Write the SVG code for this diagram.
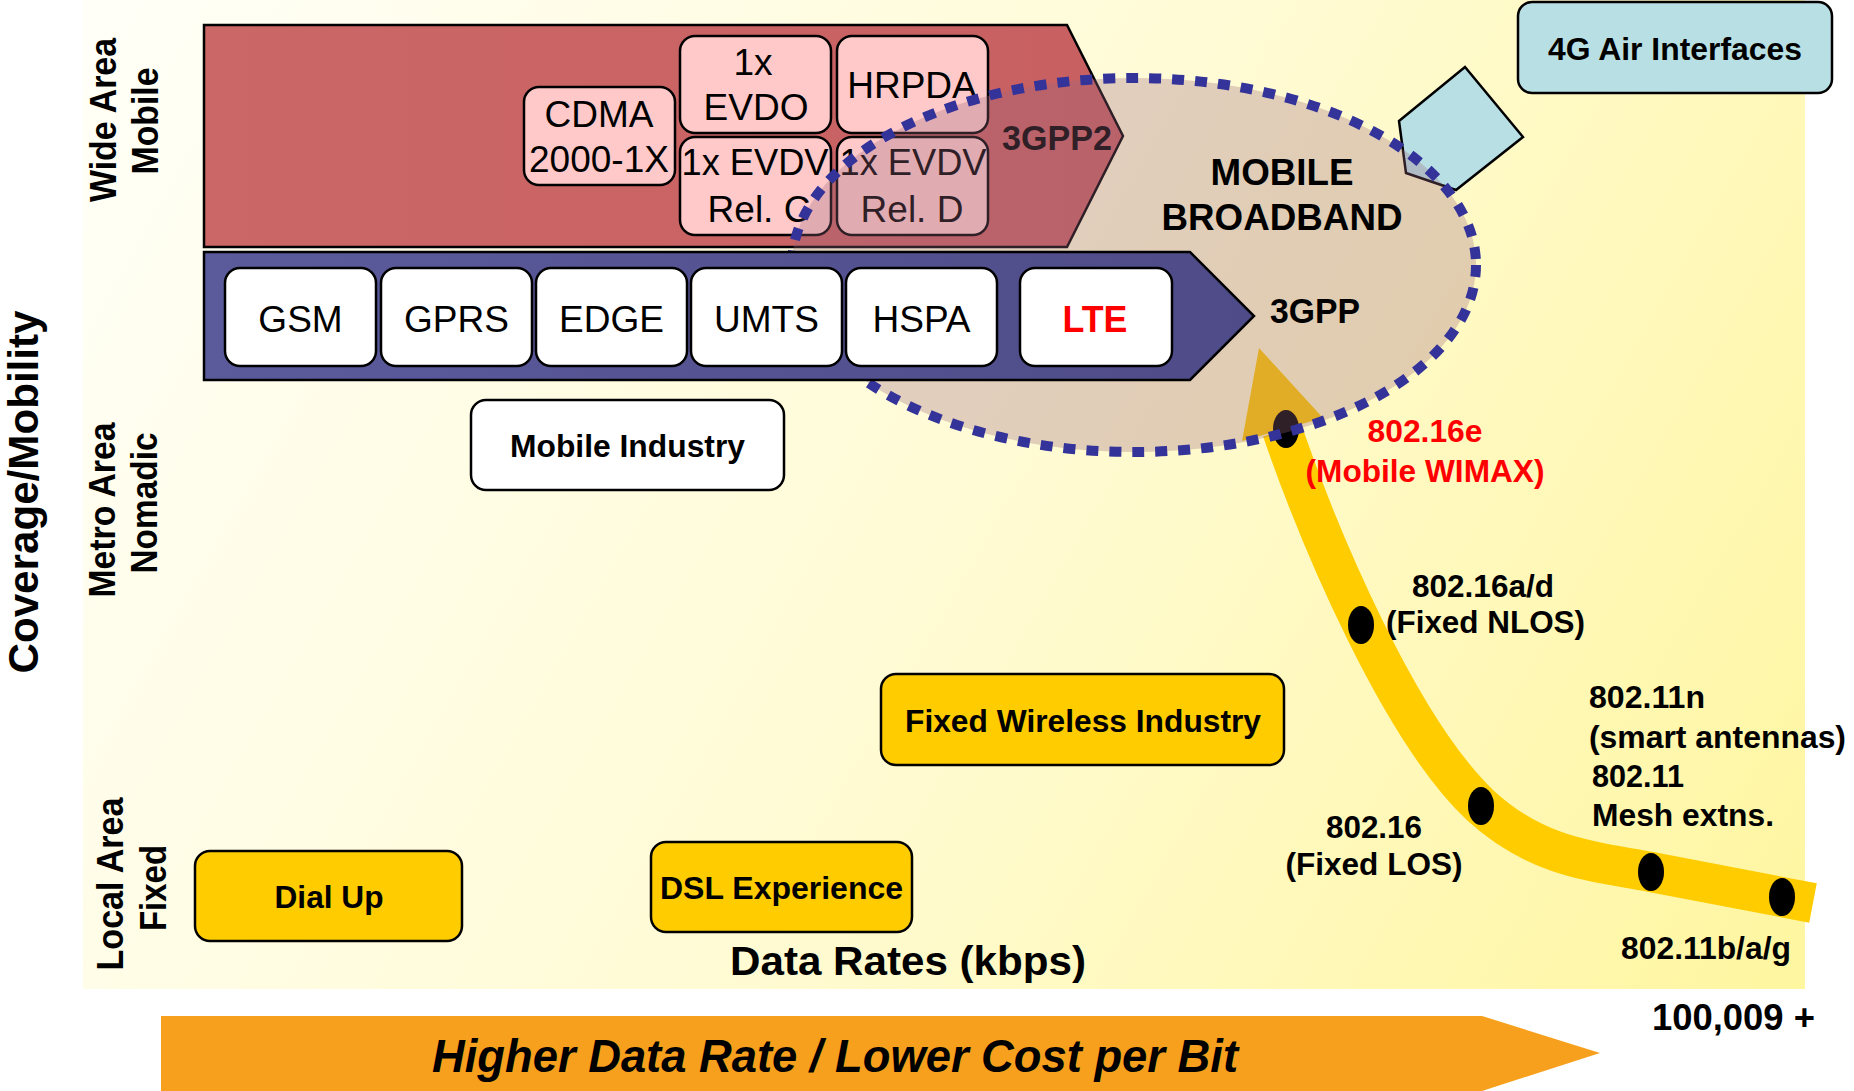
<svg xmlns="http://www.w3.org/2000/svg" width="1854" height="1091" viewBox="0 0 1854 1091">
<defs>
<linearGradient id="bg" gradientUnits="userSpaceOnUse" x1="83" y1="0" x2="1805" y2="989">
<stop offset="0" stop-color="#fffff8"/>
<stop offset="0.5" stop-color="#fffbd6"/>
<stop offset="1" stop-color="#fff6a0"/>
</linearGradient>
<linearGradient id="blueg" gradientUnits="userSpaceOnUse" x1="204" y1="0" x2="1254" y2="0">
<stop offset="0" stop-color="#5b5b9c"/>
<stop offset="1" stop-color="#4f4b88"/>
</linearGradient>
<linearGradient id="redg" gradientUnits="userSpaceOnUse" x1="204" y1="0" x2="1123" y2="0">
<stop offset="0" stop-color="#cb6767"/>
<stop offset="1" stop-color="#c86062"/>
</linearGradient>
<style>
text{font-family:"Liberation Sans",Arial,Helvetica,sans-serif;fill:#000}
.b{font-weight:bold}
.reg{font-size:37px}
.lbl{font-weight:bold;font-size:31px}
.mid{text-anchor:middle}
.pink{fill:#ffc9c9;stroke:#000;stroke-width:2.5}
.white{fill:#fff;stroke:#000;stroke-width:2.5}
.ybox{fill:#ffcc00;stroke:#000;stroke-width:2.5}
.dot{fill:#000}
.red{fill:#ff0000}
</style>
</defs>

<rect id="background" x="83" y="0" width="1722" height="989" fill="url(#bg)"/>

<g id="cost-arrow">
<polygon points="161,1016 1482,1016 1600,1053 1482,1091 161,1091" fill="#f6a01d"/>
<text class="b mid" x="835" y="1072" font-size="46" font-style="italic" textLength="806" lengthAdjust="spacingAndGlyphs">Higher Data Rate / Lower Cost per Bit</text>
</g>

<g id="axis-labels">
<text class="b mid" transform="translate(38,492) rotate(-90)" font-size="42" textLength="363" lengthAdjust="spacingAndGlyphs">Coverage/Mobility</text>
<text class="b mid" transform="translate(116,120) rotate(-90)" font-size="37" textLength="164" lengthAdjust="spacingAndGlyphs">Wide Area</text>
<text class="b mid" transform="translate(158,121) rotate(-90)" font-size="37" textLength="107" lengthAdjust="spacingAndGlyphs">Mobile</text>
<text class="b mid" transform="translate(115,510) rotate(-90)" font-size="37" textLength="175" lengthAdjust="spacingAndGlyphs">Metro Area</text>
<text class="b mid" transform="translate(157,503) rotate(-90)" font-size="37" textLength="141" lengthAdjust="spacingAndGlyphs">Nomadic</text>
<text class="b mid" transform="translate(123,884) rotate(-90)" font-size="37" textLength="173" lengthAdjust="spacingAndGlyphs">Local Area</text>
<text class="b mid" transform="translate(166,888) rotate(-90)" font-size="37" textLength="86" lengthAdjust="spacingAndGlyphs">Fixed</text>
<text class="b" x="730" y="975" font-size="40" textLength="356" lengthAdjust="spacingAndGlyphs">Data Rates (kbps)</text>
<text class="b" x="1652" y="1030" font-size="36" textLength="163" lengthAdjust="spacingAndGlyphs">100,009 +</text>
</g>

<g id="node-3gpp2">
<polygon points="204,25 1067,25 1123,136 1067,247 204,247" fill="url(#redg)" stroke="#000" stroke-width="2.5"/>
<text class="b" x="1002" y="150" font-size="35" textLength="110" lengthAdjust="spacingAndGlyphs">3GPP2</text>
</g>
<g id="node-cdma">
<rect class="pink" x="524" y="87" width="151" height="98" rx="15"/>
<text class="reg mid" x="599" y="127">CDMA</text>
<text class="reg mid" x="599" y="172">2000-1X</text>
</g>
<g id="node-evdo">
<rect class="pink" x="680" y="36" width="151" height="97" rx="15"/>
<text class="reg mid" x="753" y="75">1x</text>
<text class="reg mid" x="756" y="120">EVDO</text>
</g>
<g id="node-hrpda">
<rect class="pink" x="837" y="36" width="151" height="97" rx="15"/>
<text class="reg mid" x="912" y="98">HRPDA</text>
</g>
<g id="node-evdv-c">
<rect class="pink" x="680" y="137" width="151" height="98" rx="15"/>
<text class="reg mid" x="755" y="175" textLength="147" lengthAdjust="spacingAndGlyphs">1x EVDV</text>
<text class="reg mid" x="759" y="222">Rel. C</text>
</g>
<g id="node-evdv-d">
<rect class="pink" x="837" y="137" width="151" height="98" rx="15"/>
<text class="reg mid" x="913" y="175" textLength="147" lengthAdjust="spacingAndGlyphs">1x EVDV</text>
<text class="reg mid" x="912" y="222">Rel. D</text>
</g>

<g id="node-4g">
<polygon points="1399,121 1465,67 1523,137 1456,190 1406,173" fill="#b8e0e4" stroke="#000" stroke-width="2.5"/>
<rect x="1518" y="2" width="314" height="91" rx="14" fill="#b8e0e4" stroke="#000" stroke-width="2.5"/>
<text class="b mid" x="1675" y="60" font-size="32" textLength="254" lengthAdjust="spacingAndGlyphs">4G Air Interfaces</text>
</g>

<g id="wimax-labels">
<text class="lbl" x="1412" y="597" textLength="142" lengthAdjust="spacingAndGlyphs">802.16a/d</text>
<text class="lbl" x="1386" y="633" textLength="199" lengthAdjust="spacingAndGlyphs">(Fixed NLOS)</text>
<text class="lbl" x="1589" y="708" textLength="116" lengthAdjust="spacingAndGlyphs">802.11n</text>
<text class="lbl" x="1589" y="748" textLength="257" lengthAdjust="spacingAndGlyphs">(smart antennas)</text>
<text class="lbl" x="1592" y="787" textLength="92" lengthAdjust="spacingAndGlyphs">802.11</text>
<text class="lbl" x="1592" y="826" textLength="182" lengthAdjust="spacingAndGlyphs">Mesh extns.</text>
<text class="lbl mid" x="1374" y="838" textLength="96" lengthAdjust="spacingAndGlyphs">802.16</text>
<text class="lbl mid" x="1374" y="875" textLength="177" lengthAdjust="spacingAndGlyphs">(Fixed LOS)</text>
<text class="lbl" x="1621" y="959" textLength="170" lengthAdjust="spacingAndGlyphs">802.11b/a/g</text>
</g>

<g id="connectors">
<path d="M 1282 430 C 1320 540 1400 730 1481 806 C 1540 860 1600 862 1651 872 L 1813 903" fill="none" stroke="#ffcc00" stroke-width="40"/>
<polygon points="1259,348 1242,441 1323,418" fill="#ffcc00"/>
<ellipse class="dot" cx="1286" cy="429" rx="13" ry="19"/>
<ellipse class="dot" cx="1361" cy="625" rx="13" ry="19"/>
<ellipse class="dot" cx="1481" cy="806" rx="13" ry="19"/>
<ellipse class="dot" cx="1651" cy="872" rx="13" ry="19"/>
<ellipse class="dot" cx="1782" cy="897" rx="13" ry="19"/>
</g>

<g id="node-mobile-broadband">
<ellipse cx="1134" cy="265" rx="342" ry="187" fill="#9b687f" fill-opacity="0.3" stroke="#333399" stroke-width="10" stroke-dasharray="12 11"/>
</g>

<g id="node-3gpp">
<polygon points="204,252 1190,252 1254,316 1190,380 204,380" fill="url(#blueg)" stroke="#000" stroke-width="2.5"/>
<text class="b" x="1270" y="323" font-size="35" textLength="90" lengthAdjust="spacingAndGlyphs">3GPP</text>
</g>
<g id="node-gsm">
<rect class="white" x="225" y="268" width="151" height="98" rx="15"/>
<text class="reg mid" x="300.5" y="332">GSM</text>
</g>
<g id="node-gprs">
<rect class="white" x="381" y="268" width="151" height="98" rx="15"/>
<text class="reg mid" x="456.5" y="332">GPRS</text>
</g>
<g id="node-edge">
<rect class="white" x="536" y="268" width="151" height="98" rx="15"/>
<text class="reg mid" x="611.5" y="332">EDGE</text>
</g>
<g id="node-umts">
<rect class="white" x="691" y="268" width="151" height="98" rx="15"/>
<text class="reg mid" x="766.5" y="332">UMTS</text>
</g>
<g id="node-hspa">
<rect class="white" x="846" y="268" width="151" height="98" rx="15"/>
<text class="reg mid" x="921.5" y="332">HSPA</text>
</g>
<g id="node-lte">
<rect class="white" x="1020" y="268" width="152" height="98" rx="15"/>
<text class="b mid red" x="1095" y="332" font-size="37" textLength="65" lengthAdjust="spacingAndGlyphs">LTE</text>
</g>

<g id="broadband-labels">
<text class="b mid" x="1282" y="185" font-size="37" textLength="143" lengthAdjust="spacingAndGlyphs">MOBILE</text>
<text class="b mid" x="1282" y="230" font-size="37" textLength="241" lengthAdjust="spacingAndGlyphs">BROADBAND</text>
<text class="b mid red" x="1425" y="442" font-size="31" textLength="115" lengthAdjust="spacingAndGlyphs">802.16e</text>
<text class="b mid red" x="1425" y="482" font-size="31" textLength="239" lengthAdjust="spacingAndGlyphs">(Mobile WIMAX)</text>
</g>

<g id="node-mobile-industry">
<rect class="white" x="471" y="400" width="313" height="90" rx="15"/>
<text class="lbl mid" x="627.5" y="457" textLength="235" lengthAdjust="spacingAndGlyphs">Mobile Industry</text>
</g>
<g id="node-fixed-wireless">
<rect class="ybox" x="881" y="674" width="403" height="91" rx="15"/>
<text class="lbl mid" x="1083" y="732" textLength="356" lengthAdjust="spacingAndGlyphs">Fixed Wireless Industry</text>
</g>
<g id="node-dial-up">
<rect class="ybox" x="195" y="851" width="267" height="90" rx="15"/>
<text class="lbl mid" x="329" y="908" textLength="109" lengthAdjust="spacingAndGlyphs">Dial Up</text>
</g>
<g id="node-dsl">
<rect class="ybox" x="651" y="842" width="261" height="90" rx="15"/>
<text class="lbl mid" x="781.5" y="899" textLength="243" lengthAdjust="spacingAndGlyphs">DSL Experience</text>
</g>
</svg>
